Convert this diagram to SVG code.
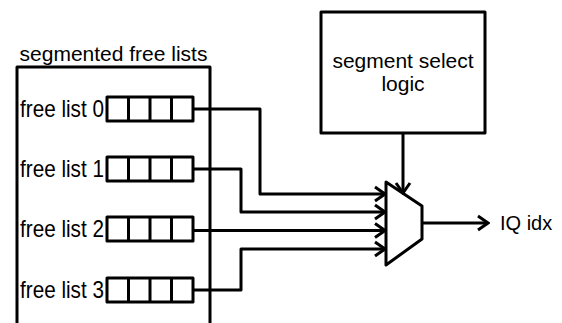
<svg xmlns="http://www.w3.org/2000/svg" width="562" height="323" viewBox="0 0 562 323">
<defs>
<style>
.ln{fill:none;stroke:#000;stroke-width:3;stroke-linejoin:round}
.tx{font-family:"Liberation Sans",Arial,sans-serif;font-size:21px;fill:#000}
.fl{font-family:"Liberation Sans",Arial,sans-serif;font-size:23px;fill:#000}
.q{fill:#fff;stroke:#000;stroke-width:3;stroke-linejoin:round}
</style>
<marker id="arr" markerUnits="userSpaceOnUse" markerWidth="14" markerHeight="18" viewBox="0 0 14 18" refX="12" refY="9" orient="auto">
<path d="M2,2 L12,9 L2,16" fill="none" stroke="#000" stroke-width="3"/>
</marker>
</defs>
<rect width="562" height="323" fill="#fff"/>
<g id="segmented-free-lists">
<path class="ln" d="M17,330 V67 H210 V330"/>
<text class="tx" x="113.5" y="61" text-anchor="middle">segmented free lists</text>
</g>
<g id="free-list-0">
<text class="fl" transform="translate(20,116.5) scale(0.9,1)">free list 0</text>
<rect class="q" x="107" y="97" width="86" height="24"/>
<path class="ln" d="M128.5,97 V121 M150,97 V121 M171.5,97 V121"/>
</g>
<g id="free-list-1">
<text class="fl" transform="translate(20,176.5) scale(0.9,1)">free list 1</text>
<rect class="q" x="107" y="157" width="86" height="24"/>
<path class="ln" d="M128.5,157 V181 M150,157 V181 M171.5,157 V181"/>
</g>
<g id="free-list-2">
<text class="fl" transform="translate(20,236.8) scale(0.9,1)">free list 2</text>
<rect class="q" x="107" y="217" width="86" height="24"/>
<path class="ln" d="M128.5,217 V241 M150,217 V241 M171.5,217 V241"/>
</g>
<g id="free-list-3">
<text class="fl" transform="translate(20,298) scale(0.9,1)">free list 3</text>
<rect class="q" x="107" y="278" width="86" height="24"/>
<path class="ln" d="M128.5,278 V302 M150,278 V302 M171.5,278 V302"/>
</g>
<g id="segment-select-logic">
<rect class="q" x="321" y="12" width="164" height="121"/>
<text class="tx" x="403" y="68" text-anchor="middle">segment select</text>
<text class="tx" x="403" y="91" text-anchor="middle">logic</text>
</g>
<g id="mux">
<path class="q" d="M386,182 L422,206 L422,239 L386,265 Z"/>
</g>
<g id="iq-idx">
<text class="tx" x="500" y="229.5" style="font-size:20px">IQ idx</text>
</g>
<g id="connectors">
<path class="ln" d="M193,109 H260 V194 H385" marker-end="url(#arr)"/>
<path class="ln" d="M193,169 H241 V212 H385" marker-end="url(#arr)"/>
<path class="ln" d="M193,230.5 H385" marker-end="url(#arr)"/>
<path class="ln" d="M193,290 H241 V249 H385" marker-end="url(#arr)"/>
<path class="ln" d="M403,133 V193" marker-end="url(#arr)"/>
<path class="ln" d="M422,223 H488" marker-end="url(#arr)"/>
</g>
</svg>
